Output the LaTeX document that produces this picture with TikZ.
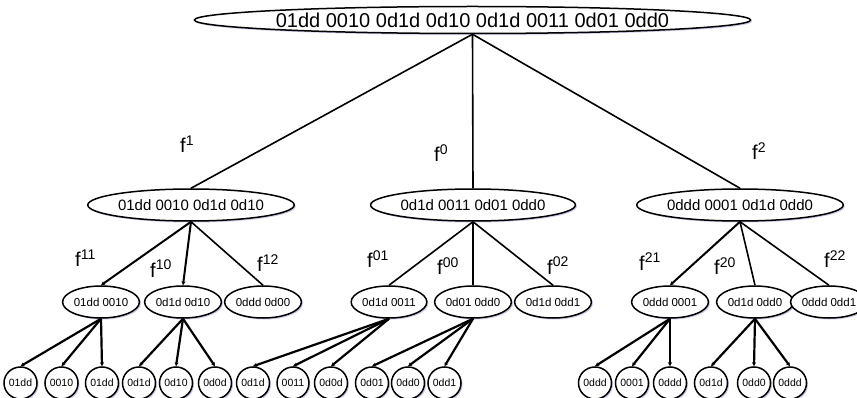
\documentclass[tikz,border=0pt]{standalone}
\usepackage{fontspec}
\setmainfont{Liberation Sans}
\usetikzlibrary{shapes.geometric,arrows.meta,shadows}
\begin{document}
\begin{tikzpicture}[x=1pt,y=-1pt,
  shd/.style={drop shadow={shadow xshift=1.5pt,shadow yshift=-1.5pt,fill=blue!40!gray,opacity=0.3}},
  base/.style={ellipse,draw,line width=1.5pt,fill=white,inner sep=0pt,shd},
  rootbox/.style={base,minimum width=531pt,minimum height=27pt,font=\fontsize{20}{24}\selectfont},
  lone/.style={base,minimum width=172pt,minimum height=32pt,font=\fontsize{15}{18}\selectfont},
  ltwo/.style={base,minimum width=64pt,minimum height=32pt,font=\fontsize{11.5}{14}\selectfont},
  leaf/.style={base,minimum width=29pt,minimum height=32pt,font=\fontsize{10.5}{12}\selectfont},
  lbl/.style={anchor=base west,inner sep=0pt,font=\fontsize{20}{24}\selectfont},
  edge1/.style={line width=1.6pt},
  edge2/.style={line width=1.6pt},
  edge2a/.style={line width=2pt,-{Stealth[length=4pt,width=4pt]}},
  edge3/.style={line width=2.2pt,-{Stealth[length=4pt,width=4pt]}}]
\useasboundingbox (0,0) rectangle (857,398);
\clip (0,0) rectangle (857,398);

\node[rootbox] (r) at (472.5,20) {01dd 0010 0d1d 0d10 0d1d 0011 0d01 0dd0};

\node[lone] (a1) at (191,205) {01dd 0010 0d1d 0d10};
\node[lone] (a0) at (473,205) {0d1d 0011 0d01 0dd0};
\node[lone] (a2) at (740,205) {0ddd 0001 0d1d 0dd0};

\node[ltwo] (b11) at (101,302) {01dd 0010};
\node[ltwo] (b10) at (183,302) {0d1d 0d10};
\node[ltwo] (b12) at (263,302) {0ddd 0d00};
\node[ltwo] (b01) at (389,302) {0d1d 0011};
\node[ltwo] (b00) at (473,302) {0d01 0dd0};
\node[ltwo] (b02) at (553,302) {0d1d 0dd1};
\node[ltwo] (b21) at (670,302) {0ddd 0001};
\node[ltwo] (b20) at (755,302) {0d1d 0dd0};
\node[ltwo] (b22) at (829,302) {0ddd 0dd1};

\node[leaf] (c1) at (20.5,383) {01dd};
\node[leaf] (c2) at (61.5,383) {0010};
\node[leaf] (c3) at (102,383) {01dd};
\node[leaf] (c4) at (139,383) {0d1d};
\node[leaf] (c5) at (176,383) {0d10};
\node[leaf] (c6) at (215,383) {0d0d};
\node[leaf] (c7) at (253,383) {0d1d};
\node[leaf] (c8) at (293,383) {0011};
\node[leaf] (c9) at (331,383) {0d0d};
\node[leaf] (c10) at (372,383) {0d01};
\node[leaf] (c11) at (408,383) {0dd0};
\node[leaf] (c12) at (444.5,383) {0dd1};
\node[leaf] (c13) at (595,383) {0ddd};
\node[leaf] (c14) at (632,383) {0001};
\node[leaf] (c15) at (670,383) {0ddd};
\node[leaf] (c16) at (711,383) {0d1d};
\node[leaf] (c17) at (754,383) {0dd0};
\node[leaf] (c18) at (790,383) {0ddd};

\draw[edge1] (r.south) -- (a1.north);
\draw[edge1] (r.south) -- (a0.north);
\draw[edge1] (r.south) -- (a2.north);

\draw[edge2a] (a1.south) -- (b11.north);
\draw[edge2a] (a1.south) -- (b10.north);
\draw[edge2] (a1.south) -- (b12.north);
\draw[edge2] (a0.south) -- (b01.north);
\draw[edge2] (a0.south) -- (b00.north);
\draw[edge2] (a0.south) -- (b02.north);
\draw[edge2a] (a2.south) -- (b21.north);
\draw[edge2] (a2.south) -- (b20.north);
\draw[edge2] (a2.south) -- (b22.north);

\foreach \p/\c in {b11/c1,b11/c2,b11/c3,b10/c4,b10/c5,b10/c6,b01/c7,b01/c8,b01/c9,b00/c10,b00/c11,b00/c12,b21/c13,b21/c14,b21/c15,b20/c16,b20/c17,b20/c18}
  \draw[edge3] (\p.south) -- (\c.north);

\node[lbl] (f1) at (180,153) {f\textsuperscript{1}};
\node[lbl] (f0) at (434,162) {f\textsuperscript{0}};
\node[lbl] (f2) at (752,160) {f\textsuperscript{2}};
\node[lbl] (f11) at (75,267) {f\textsuperscript{11}};
\node[lbl] (f10) at (150,277) {f\textsuperscript{10}};
\node[lbl] (f12) at (257,272) {f\textsuperscript{12}};
\node[lbl] (f01) at (367,268) {f\textsuperscript{01}};
\node[lbl] (f00) at (437,275) {f\textsuperscript{00}};
\node[lbl] (f02) at (547,274) {f\textsuperscript{02}};
\node[lbl] (f21) at (639,270) {f\textsuperscript{21}};
\node[lbl] (f20) at (714,275) {f\textsuperscript{20}};
\node[lbl] (f22) at (824,268) {f\textsuperscript{22}};
\end{tikzpicture}
\end{document}
